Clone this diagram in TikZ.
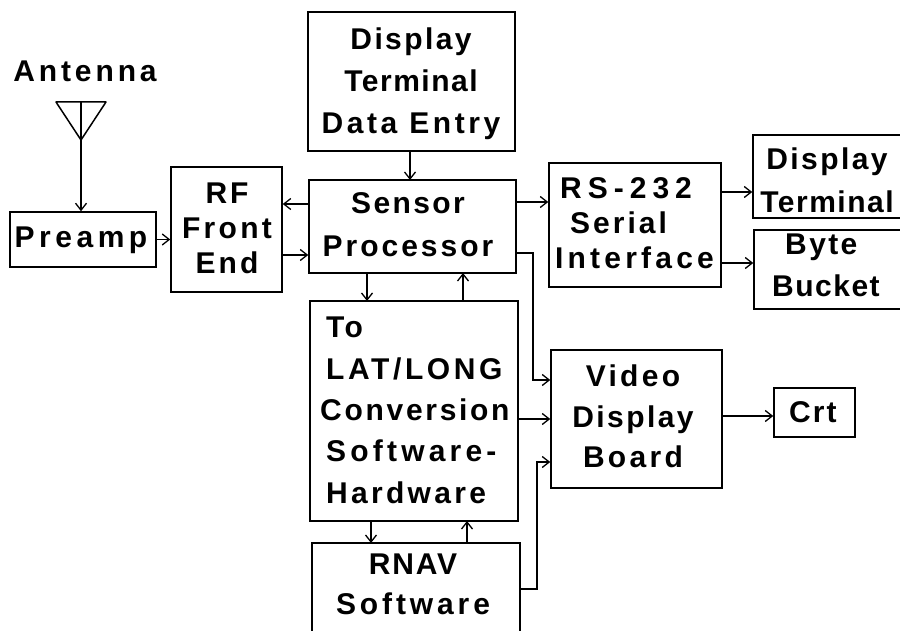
\documentclass[tikz,border=0pt]{standalone}
\usepackage{fontspec}
\newfontfamily\wide{Liberation Sans Bold}
\newcommand{\ls}[2]{{\addfontfeature{LetterSpace=#1}#2}}
\usetikzlibrary{arrows.meta}
\begin{document}
\begin{tikzpicture}[x=1pt,y=-1pt,
 box/.style={draw=black,line width=1.5pt,inner sep=0pt},
 txt/.style={inner sep=0pt,align=center,text=black,font=\wide\fontsize{30}{#1}\selectfont},
 txt/.default=36,
 conn/.style={line width=1.3pt,-{Straight Barb[length=7pt,width=11pt,line width=1.3pt]}}]
\useasboundingbox (0,0) rectangle (900,631);
\fill[white] (0,0) rectangle (900,631);
\clip (0,0) rectangle (900,631);
\node[box,minimum width=207pt,minimum height=139pt] (dte) at (411.5,81.5) {};
\node[txt=42] (dtet) at (411,83.5) {\ls{8}{Display}\\\ls{5}{Terminal}\\\ls{12}{Data Entry}};
\node[box,minimum width=146pt,minimum height=55pt] (pre) at (83,239.5) {};
\node[txt] (pret) at (81,240) {\ls{15}{Preamp}};
\node[box,minimum width=111pt,minimum height=125pt] (rf) at (226.5,229.5) {};
\node[txt=35] (rft) at (227,228) {\ls{10}{RF}\\\ls{11}{Front}\\\ls{10}{End}};
\node[box,minimum width=207pt,minimum height=93pt] (sp) at (412.5,226.5) {};
\node[txt=43] (spt) at (408,224.5) {\ls{8}{Sensor}\\\ls{10}{Processor}};
\node[box,minimum width=172pt,minimum height=124pt] (rs) at (635,225) {};
\node[txt=35,align=left,anchor=west] (rst) at (555,223) {\hspace*{5pt}\ls{20}{RS-232}\\\hspace*{15pt}\ls{10}{Serial}\\\ls{14}{Interface}};
\node[box,minimum width=160pt,minimum height=83pt] (dt) at (833,176.5) {};
\node[txt=43] (dtt) at (827,180.5) {\ls{8}{Display}\\\ls{5}{Terminal}};
\node[box,minimum width=160pt,minimum height=79pt] (bb) at (834,269.5) {};
\node[txt=42,align=left,anchor=west] (bbt) at (772,265) {\hspace*{13pt}\ls{8}{Byte}\\\ls{5}{Bucket}};
\node[box,minimum width=208pt,minimum height=220pt] (ll) at (414,411) {};
\node[txt=41.3,align=left,anchor=north west] (llt) at (326,317) {\ls{8}{To}\\\ls{12}{LAT/LONG}\\\hspace*{-6pt}\ls{9}{Conversion}\\\ls{14}{Software-}\\\ls{11}{Hardware}};
\node[box,minimum width=171pt,minimum height=138pt] (vd) at (636.5,419) {};
\node[txt=40.5] (vdt) at (633,416.5) {\ls{11}{Video}\\\ls{8}{Display}\\\ls{11}{Board}};
\node[box,minimum width=81pt,minimum height=49pt] (crt) at (814.5,412.5) {};
\node[txt] (crtt) at (813,412) {\ls{7}{Crt}};
\node[box,minimum width=208pt,minimum height=140pt] (rn) at (416,613) {};
\node[txt=40] (rnt) at (413,584) {\ls{6}{RNAV}\\\ls{13}{Software}};
\node[txt] (ant) at (85,71) {\ls{13}{Antenna}};
\coordinate (at) at (81,140);
\coordinate (al) at (56,102);
\coordinate (ar) at (106,102);
\coordinate (am) at (81,102);
\draw[line width=1.5pt,line join=round] (al) -- (ar) -- (at) -- cycle;
\draw[conn] (am) -- (am |- pre.north);
\draw[conn] (pre.east) -- (rf.west |- pre.east);
\draw[conn] (sp.west |- 0,204) -- (rf.east |- 0,204);
\draw[conn] (rf.east |- 0,255) -- (sp.west |- 0,255);
\draw[conn] (410,151) -- (410,180);
\draw[conn] (sp.east |- 0,202) -- (rs.west |- 0,202);
\draw[conn] (rs.east |- 0,192) -- (dt.west |- 0,192);
\draw[conn] (rs.east |- 0,263) -- (bb.west |- 0,263);
\draw[conn] (367,273) -- (367,301);
\draw[conn] (463,301) -- (463,273);
\draw[conn] (sp.east |- 0,253) -- (533,253) -- (533,380) -- (vd.west |- 0,380);
\draw[conn] (ll.east |- 0,419) -- (vd.west |- 0,419);
\draw[conn] (rn.east |- 0,589) -- (537,589) -- (537,462) -- (vd.west |- 0,462);
\draw[conn] (vd.east |- 0,416) -- (crt.west |- 0,416);
\draw[conn] (371,521) -- (371,543);
\draw[conn] (467,543) -- (467,521);
\end{tikzpicture}
\end{document}
